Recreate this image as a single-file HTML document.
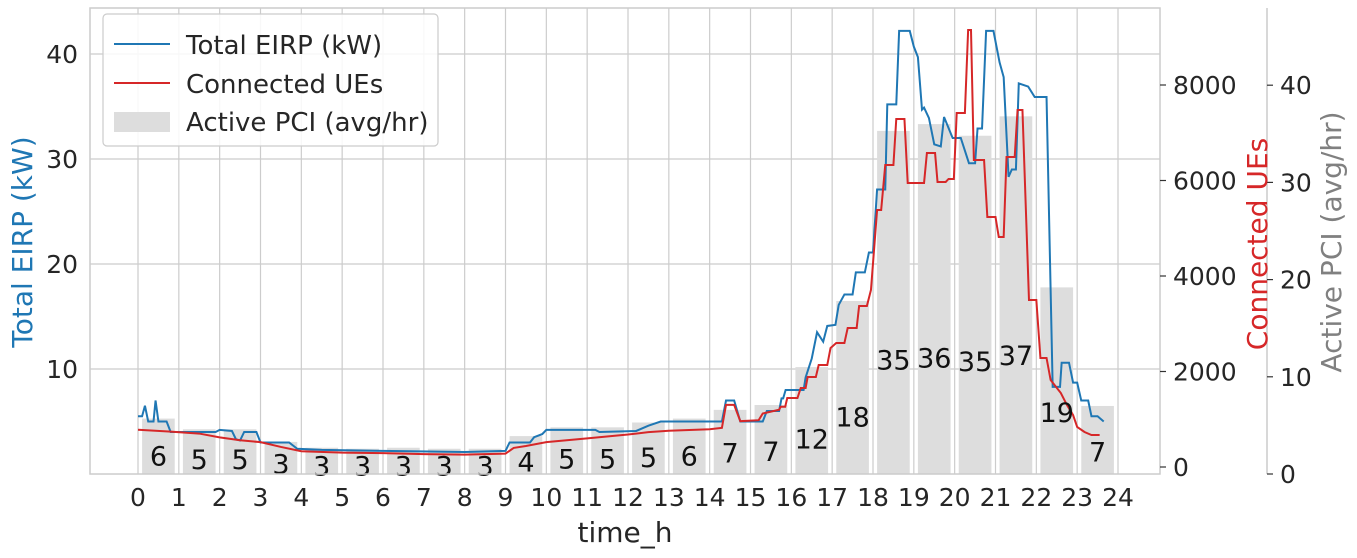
<!DOCTYPE html>
<html><head><meta charset="utf-8">
<style>
body{margin:0;background:#fff;}
svg{display:block;font-family:"DejaVu Sans","Liberation Sans",sans-serif;}
</style></head>
<body>
<svg id="chart" width="1357" height="558" viewBox="0 0 1357 558" xmlns="http://www.w3.org/2000/svg">
<g id="grid"></g><g id="bars"></g><g id="lines"></g><g id="labels"></g><g id="axes"></g>
</svg>
<script>
const pciValues=[5.7,4.6,4.6,3.3,2.7,2.6,2.7,2.6,2.6,3.9,4.8,4.8,5.3,5.7,6.6,7.1,11.0,17.8,35.3,36.0,34.8,36.8,19.2,7.0];
const pciLabels=["6","5","5","3","3","3","3","3","3","4","5","5","5","6","7","7","12","18","35","36","35","37","19","7"];
const eirpTimes=[0,0.1,0.17,0.25,0.38,0.43,0.5,0.7,0.8,1.9,2.0,2.3,2.4,2.5,2.6,2.9,3.0,3.7,3.9,4.5,6,8,9,9.1,9.6,9.7,9.9,10,11.2,11.3,12.2,12.5,12.8,14.3,14.4,14.6,14.75,15.3,15.4,15.7,15.76,15.8,15.86,16.3,16.35,16.5,16.63,16.78,16.88,17.08,17.16,17.3,17.5,17.58,17.8,17.9,18.0,18.1,18.3,18.35,18.57,18.64,18.9,19.0,19.1,19.2,19.25,19.37,19.5,19.66,19.74,19.95,20.15,20.35,20.5,20.56,20.67,20.77,20.95,21.1,21.2,21.32,21.4,21.5,21.57,21.8,21.96,22.25,22.4,22.58,22.62,22.8,22.9,23.0,23.1,23.27,23.35,23.5,23.65];
const eirpValues=[5.5,5.5,6.5,5.0,5.0,7.0,5.0,5.0,4.0,4.0,4.2,4.1,3.3,3.2,4.0,4.0,3.0,3.0,2.4,2.3,2.2,2.1,2.2,3.0,3.0,3.5,3.8,4.2,4.2,4.0,4.1,4.6,5.0,5.0,7.0,7.0,5.0,5.0,6.0,6.0,7.2,7.2,8.0,8.0,9.2,11.0,13.5,12.6,14.1,14.2,16.1,17.1,17.1,19.2,19.2,21.1,21.1,27.1,27.1,35.2,35.2,42.2,42.2,40.7,39.7,34.7,34.9,33.9,31.4,31.2,34.0,32.0,32.0,29.6,29.6,32.9,32.9,42.2,42.2,39.2,37.8,28.3,29.0,29.0,37.2,36.9,35.9,35.9,8.3,8.3,10.6,10.6,8.7,8.7,7.0,7.0,5.5,5.5,5.0];
const ueTimes=[0,0.8,1.5,2,2.5,3,3.5,4,5,6,7,8,9,9.2,9.5,10,11,12,12.5,13,14,14.3,14.4,14.6,14.75,15.2,15.3,15.7,15.74,15.85,15.9,16.15,16.23,16.35,16.4,16.6,16.67,16.88,16.96,17.1,17.3,17.38,17.6,17.66,17.85,17.95,18.1,18.2,18.3,18.5,18.57,18.77,18.85,19.25,19.32,19.52,19.58,19.78,19.85,19.98,20.05,20.25,20.33,20.4,20.47,20.72,20.8,21.0,21.08,21.2,21.27,21.47,21.54,21.66,21.82,22.0,22.1,22.25,22.35,22.6,22.75,22.9,23.0,23.18,23.35,23.55];
const ueValues=[780,740,700,620,560,520,420,330,300,290,270,260,280,400,440,520,600,680,730,760,790,820,1300,1300,960,980,1120,1200,1263,1263,1445,1445,1655,1655,1885,1885,2136,2136,2492,2597,2597,2911,2911,3372,3372,3707,5382,5382,6324,6324,7288,7288,5948,5948,6576,6576,5969,5969,6032,6032,7414,7414,9152,9152,6430,6430,5236,5236,4817,4817,6492,6492,7476,7476,3497,3497,2283,2283,1822,1550,1298,1089,838,733,670,670];
const xTicks=[0,1,2,3,4,5,6,7,8,9,10,11,12,13,14,15,16,17,18,19,20,21,22,23,24];
const eirpTicks=[10,20,30,40];
const ueTicks=[0,2000,4000,6000,8000];
const pciTicks=[0,10,20,30,40];

const NS="http://www.w3.org/2000/svg";
const L=90,R=1160,T=8,B=474;
const xS=h=>138+h*(1118-138)/24;
const yE=v=>474-v*10.5;
const yU=v=>467-v*95.5/2000;
const yP=v=>474-v*9.72;
function mk(parent,tag,attrs,text){const e=document.createElementNS(NS,tag);for(const k in attrs)e.setAttribute(k,attrs[k]);if(text!==undefined)e.textContent=text;document.getElementById(parent).appendChild(e);return e;}

xTicks.forEach(t=>{const g=mk('grid','line',{x1:xS(t),x2:xS(t),y1:T,y2:B,stroke:'#cccccc','stroke-width':1.2});

});
eirpTicks.forEach(t=>{const g=mk('grid','line',{x1:L,x2:R,y1:yE(t),y2:yE(t),stroke:'#cccccc','stroke-width':1.2});

});

pciValues.forEach((v,i)=>{const bw=0.8*(xS(1)-xS(0));const r=mk('bars','rect',{x:xS(i+0.5)-bw/2,y:yP(v),width:bw,height:B-yP(v),fill:'#dddddd'});


const t=mk('labels','text',{x:xS(i+0.5),y:yP(v/3)+10,'text-anchor':'middle','font-size':27,fill:'#111'},pciLabels[i]);

});

const pe=mk('lines','polyline',{points:eirpTimes.map((t,i)=>xS(t)+','+yE(eirpValues[i])).join(' '),fill:'none',stroke:'#1f77b4','stroke-width':2});


const pu=mk('lines','polyline',{points:ueTimes.map((t,i)=>xS(t)+','+yU(ueValues[i])).join(' '),fill:'none',stroke:'#d62728','stroke-width':2});



const fr=mk('axes','rect',{x:L,y:T,width:R-L,height:B-T,fill:'none',stroke:'#cccccc','stroke-width':1.5});


const sp=mk('axes','line',{x1:1267,x2:1267,y1:T,y2:B,stroke:'#cccccc','stroke-width':1.5});



xTicks.forEach(t=>{const e=mk('axes','text',{x:xS(t),y:506,'text-anchor':'middle','font-size':25,fill:'#262626'},String(t));

});
eirpTicks.forEach(t=>{const e=mk('axes','text',{x:78,y:yE(t)+9,'text-anchor':'end','font-size':25,fill:'#262626'},String(t));

});
ueTicks.forEach(t=>{mk('axes','line',{x1:1160,x2:1166,y1:yU(t),y2:yU(t),stroke:'#333','stroke-width':1.2});
const e=mk('axes','text',{x:1173,y:yU(t)+9,'font-size':25,fill:'#262626'},String(t));

});
pciTicks.forEach(t=>{mk('axes','line',{x1:1267,x2:1273,y1:yP(t),y2:yP(t),stroke:'#333','stroke-width':1.2});
const e=mk('axes','text',{x:1280,y:yP(t)+9,'font-size':25,fill:'#262626'},String(t));

});
</script>
<svg style="position:absolute;left:0;top:0" width="1357" height="558" xmlns="http://www.w3.org/2000/svg" font-family="DejaVu Sans, Liberation Sans, sans-serif">
<text x="625" y="542" text-anchor="middle" font-size="28" fill="#262626">time_h</text>
<text transform="translate(32,242) rotate(-90)" text-anchor="middle" font-size="28" fill="#1f77b4">Total EIRP (kW)</text>
<text transform="translate(1267,244) rotate(-90)" text-anchor="middle" font-size="28" fill="#d62728">Connected UEs</text>
<text transform="translate(1341,242) rotate(-90)" text-anchor="middle" font-size="28" fill="#808080">Active PCI (avg/hr)</text>
<g>
<rect x="103" y="14" width="335" height="132" rx="4" fill="#fff" fill-opacity="0.85" stroke="#cccccc" stroke-width="1.2"/>
<g><line x1="114" x2="170" y1="44" y2="44" stroke="#1f77b4" stroke-width="2"/><text x="186" y="54" font-size="26" fill="#262626">Total EIRP (kW)</text></g>
<g><line x1="114" x2="170" y1="83" y2="83" stroke="#d62728" stroke-width="2"/><text x="186" y="93" font-size="26" fill="#262626">Connected UEs</text></g>
<g><rect x="114" y="112" width="56" height="20" fill="#dddddd"/><text x="186" y="131" font-size="26" fill="#262626">Active PCI (avg/hr)</text></g>
</g>
</svg>
</body></html>
